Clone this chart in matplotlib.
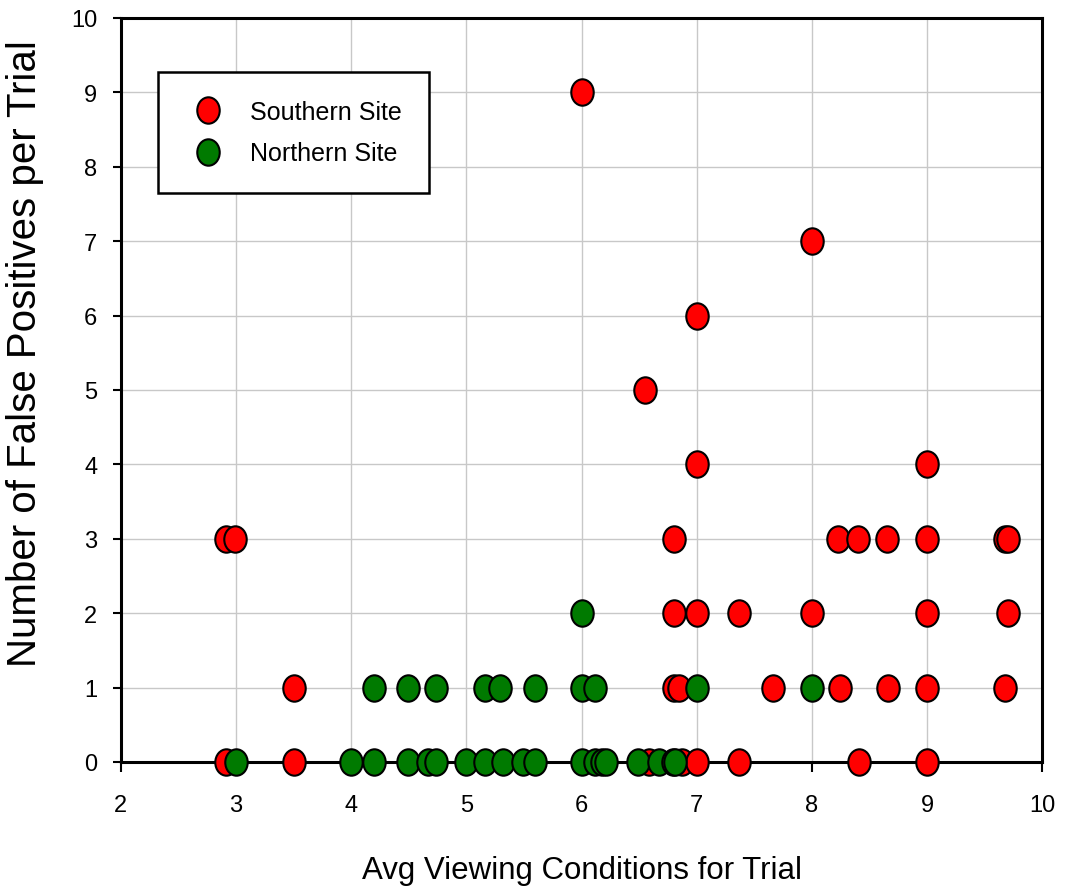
import numpy as np
import matplotlib.pyplot as plt
from matplotlib.path import Path

# Southern site (red)
south_x = [6.0, 8.0, 7.0, 6.55, 7.0, 9.0,
           2.91, 2.99, 6.8, 8.23, 8.4, 8.65, 9.0, 9.68, 9.7,
           6.8, 7.0, 7.37, 8.0, 9.0, 9.7,
           3.5, 6.8, 6.85, 7.66, 8.24, 8.66, 9.0, 9.68,
           2.91, 3.5, 6.59, 6.87, 7.0, 7.37, 8.41, 9.0]
south_y = [9, 7, 6, 5, 4, 4,
           3, 3, 3, 3, 3, 3, 3, 3, 3,
           2, 2, 2, 2, 2, 2,
           1, 1, 1, 1, 1, 1, 1, 1,
           0, 0, 0, 0, 0, 0, 0, 0]

# Northern site (green)
north_x = [6.0,
           4.2, 4.49, 4.74, 5.16, 5.29, 5.6, 6.0, 6.12, 7.0, 8.0,
           3.0, 4.0, 4.2, 4.49, 4.67, 4.74, 5.0, 5.16, 5.32, 5.49, 5.6,
           6.0, 6.12, 6.18, 6.21, 6.49, 6.67, 6.79, 6.81]
north_y = [2,
           1, 1, 1, 1, 1, 1, 1, 1, 1, 1,
           0, 0, 0, 0, 0, 0, 0, 0, 0, 0, 0,
           0, 0, 0, 0, 0, 0, 0, 0]

plt.rcParams['font.family'] = ['Liberation Sans', 'DejaVu Sans']

# slightly tall ellipse marker
circ = Path.unit_circle()
ellipse = Path(circ.vertices * np.array([0.85, 1.0]), circ.codes)

fig = plt.figure(figsize=(10.70, 8.87), dpi=100)
ax = fig.add_axes([0.113, 0.1398, 0.861, 0.8388])

ax.plot(south_x, south_y, ls='none', marker=ellipse, ms=19, mfc='#ff0000',
        mec='black', mew=1.5, clip_on=False, zorder=3, label='Southern Site')
ax.plot(north_x, north_y, ls='none', marker=ellipse, ms=19, mfc='#007a00',
        mec='black', mew=1.5, clip_on=False, zorder=4, label='Northern Site')

ax.set_xlim(2, 10)
ax.set_ylim(0, 10)
ax.set_xticks(range(2, 11))
ax.set_yticks(range(0, 11))
ax.grid(True, color='#c8c8c8', lw=1)
ax.set_axisbelow(True)
for s in ax.spines.values():
    s.set_linewidth(2.2)
ax.tick_params(axis='both', labelsize=17, width=1.5)
ax.tick_params(axis='x', length=7, pad=16)
ax.tick_params(axis='y', length=6, pad=11)

ax.set_xlabel('Avg Viewing Conditions for Trial', fontsize=22.5)
ax.set_ylabel('Number of False Positives per Trial', fontsize=29)
ax.xaxis.set_label_coords(0.5, -0.125)
ax.yaxis.set_label_coords(-0.083, 0.55)

leg = ax.legend(loc='upper left', bbox_to_anchor=(0.040, 0.927), fontsize=18,
                frameon=True, fancybox=False, edgecolor='black',
                borderpad=1.1, handlelength=1.8, handletextpad=0.78,
                labelspacing=0.7, borderaxespad=0, framealpha=1)
leg.get_frame().set_linewidth(1.8)

fig.savefig('out.png', dpi=100)
